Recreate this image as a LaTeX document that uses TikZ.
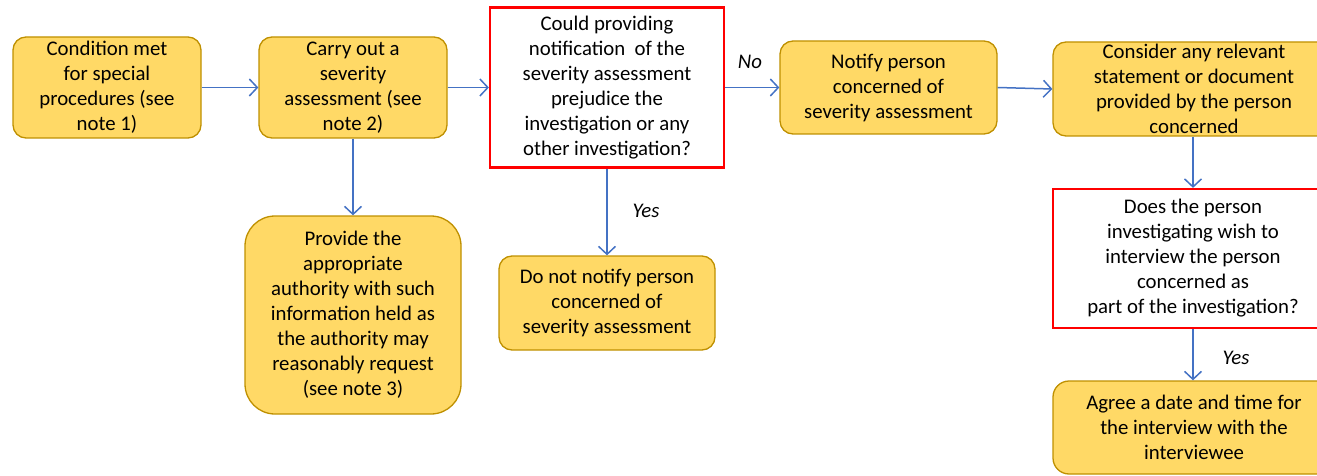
\documentclass[tikz,border=0pt]{standalone}
\usepackage{fontspec}
\setmainfont{Carlito}
\usetikzlibrary{arrows.meta}
\definecolor{boxfill}{HTML}{FFD966}
\definecolor{boxline}{HTML}{BF9000}
\definecolor{arrowblue}{HTML}{4472C4}
\definecolor{redline}{HTML}{FF0000}
\tikzset{
  proc/.style={draw=boxline, fill=boxfill, line width=1.3pt, rounded corners=13pt,
    align=center, inner sep=0pt, font=\fontsize{20.8}{25}\selectfont, text=black},
  question/.style={draw=redline, fill=white, line width=2.2pt, sharp corners,
    align=center, inner sep=0pt, font=\fontsize{20.8}{25}\selectfont, text=black},
  flow/.style={draw=arrowblue, line width=1.5pt,
    -{Straight Barb[length=8pt,width=17pt,line width=1.5pt]}},
  lbl/.style={font=\fontsize{20.8}{25}\selectfont\itshape, text=black}
}
\begin{document}
\begin{tikzpicture}[x=1pt,y=-1pt]
\useasboundingbox (0,0) rectangle (1317,476);
\node[proc, minimum width=188pt, minimum height=101pt] (b1) at (107,87.5)
  {Condition met\\for special\\procedures (see\\note 1)};
\node[proc, minimum width=188pt, minimum height=101pt] (b2) at (353,87.5)
  {Carry out a\\severity\\assessment (see\\note 2)};
\node[question, minimum width=234pt, minimum height=160pt] (b3) at (607,87.5)
  {Could providing\\notification\ \ of the\\severity assessment\\prejudice the\\investigation or any\\other investigation?};
\node[proc, minimum width=217pt, minimum height=93pt] (b4) at (888.5,87.5)
  {Notify person\\concerned of\\severity assessment};
\node[proc, minimum width=282pt, minimum height=94pt] (b5) at (1194,89)
  {Consider any relevant\\statement or document\\provided by the person\\concerned};
\node[proc, rounded corners=30pt, minimum width=216pt, minimum height=198pt] (b6) at (353,315)
  {Provide the\\appropriate\\authority with such\\information held as\\the authority may\\reasonably request\\(see note 3)};
\node[proc, minimum width=216pt, minimum height=94pt] (b7) at (607,303)
  {Do not notify person\\concerned of\\severity assessment};
\node[question, minimum width=280pt, minimum height=139pt] (b8) at (1193,258.5)
  {Does the person\\investigating wish to\\interview the person\\concerned as\\part of the investigation?};
\node[proc, rounded corners=16pt, minimum width=282pt, minimum height=93pt] (b9) at (1194,427.5)
  {Agree a date and time for\\the interview with the\\interviewee};

\draw[flow] (b1) -- (b2);
\draw[flow] (b2) -- (b3);
\draw[flow] (b3) -- (b4);
\draw[flow] (b4.east) -- (b5.west);
\draw[flow] (b2) -- (b6);
\draw[flow] (b3) -- (b7);
\draw[flow] (b5.south -| b8.north) -- (b8.north);
\draw[flow] (b8.south) -- (b8.south |- b9.north);

\node[lbl] (lno) at (750,62) {No};
\node[lbl] (lyes1) at (646,211) {Yes};
\node[lbl] (lyes2) at (1236,358) {Yes};
\end{tikzpicture}
\end{document}
